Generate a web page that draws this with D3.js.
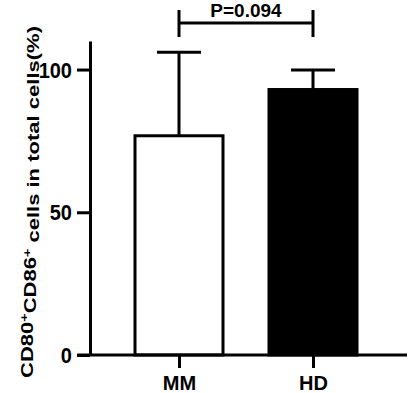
<!DOCTYPE html>
<html lang="en">
<head>
    <meta charset="utf-8">
    <title>CD80+CD86+ cells</title>
    <script src="https://d3js.org/d3.v7.min.js"></script>
    <style>
        body { margin: 0; background: #fff; }
        text { font-family: Arial, "Liberation Sans", sans-serif; font-weight: bold; fill: #000; }
    </style>
</head>
<body>
<div id="chart"></div>
<script>
    // Data
    const groups = ["MM", "HD"];
    const means = [76.8, 93.0];
    const upperErr = [106.1, 99.8];
    const fills = ["#fff", "#000"];
    const yTicks = [0, 50, 100];
    const pLabel = "P=0.094";

    const W = 408, H = 393;
    const margin = {top: 41, right: 3, bottom: 38, left: 90};
    const width = W - margin.left - margin.right,
        height = H - margin.top - margin.bottom;

    const svg = d3.select("#chart")
        .append("svg")
        .attr("width", W)
        .attr("height", H)
        .append("g")
        .attr("transform", `translate(${margin.left},${margin.top})`);

    const y = d3.scaleLinear().domain([0, 110]).range([height, 0]);

    // category centres sit at 179 and 313 in page coords
    const x = d3.scalePoint().domain(groups).range([179 - margin.left, 313 - margin.left]);
    const barW = 88, capW = 44;

    // bars
    svg.selectAll(".bar")
        .data(groups)
        .enter()
        .append("rect")
        .attr("x", d => x(d) - barW / 2)
        .attr("y", (d, i) => y(means[i]))
        .attr("width", barW)
        .attr("height", (d, i) => height - y(means[i]))
        .attr("fill", (d, i) => fills[i])
        .attr("stroke", "#000")
        .attr("stroke-width", 3);

    // error bars (upper only)
    const err = svg.selectAll(".err")
        .data(groups)
        .enter()
        .append("g");
    err.append("line")
        .attr("x1", d => x(d)).attr("x2", d => x(d))
        .attr("y1", (d, i) => y(means[i]))
        .attr("y2", (d, i) => y(upperErr[i]))
        .attr("stroke", "#000").attr("stroke-width", 3);
    err.append("line")
        .attr("x1", d => x(d) - capW / 2).attr("x2", d => x(d) + capW / 2)
        .attr("y1", (d, i) => y(upperErr[i]))
        .attr("y2", (d, i) => y(upperErr[i]))
        .attr("stroke", "#000").attr("stroke-width", 3);

    // Y axis
    const yAxis = svg.append("g")
        .call(d3.axisLeft(y).tickValues(yTicks).tickSize(13).tickPadding(5).tickSizeOuter(0));
    yAxis.select(".domain").attr("stroke-width", 3);
    yAxis.selectAll(".tick line").attr("stroke-width", 3);
    yAxis.selectAll("text")
        .style("font-size", "20px")
        .attr("dy", "0.36em")
        .attr("transform", "scale(1,1.06)");

    // X axis
    const xAxis = svg.append("g")
        .attr("transform", `translate(0,${height})`)
        .call(d3.axisBottom(x).tickSize(13).tickPadding(8).tickSizeOuter(0));
    xAxis.select(".domain")
        .attr("d", `M${-13},0H${width + 2}`)
        .attr("stroke-width", 3);
    xAxis.selectAll(".tick line").attr("stroke-width", 3);
    xAxis.selectAll("text").style("font-size", "20px");

    // significance bracket
    const bY = 23 - margin.top;
    const br = svg.append("g");
    br.append("line")
        .attr("x1", x("MM")).attr("x2", x("HD"))
        .attr("y1", bY).attr("y2", bY)
        .attr("stroke", "#000").attr("stroke-width", 3);
    br.selectAll(".end")
        .data(groups)
        .enter()
        .append("line")
        .attr("x1", d => x(d)).attr("x2", d => x(d))
        .attr("y1", bY - 13).attr("y2", bY + 14)
        .attr("stroke", "#000").attr("stroke-width", 3);
    br.append("text")
        .attr("x", (x("MM") + x("HD")) / 2)
        .attr("y", 16.5 - margin.top)
        .attr("text-anchor", "middle")
        .style("font-size", "19px")
        .text(pLabel);

    // Y label with superscripts, stretched along its length like the reference
    const yl = svg.append("text")
        .attr("transform", `translate(${33 - margin.left},${202 - margin.top}) rotate(-90)`)
        .attr("text-anchor", "middle")
        .attr("textLength", 352)
        .attr("lengthAdjust", "spacingAndGlyphs")
        .style("font-size", "17px");
    yl.append("tspan").text("CD80");
    yl.append("tspan").text("+").attr("dy", "-0.5em").style("font-size", "11px");
    yl.append("tspan").text("CD86").attr("dy", "0.5em");
    yl.append("tspan").text("+").attr("dy", "-0.5em").style("font-size", "11px");
    yl.append("tspan").text(" cells in total cells(%)").attr("dy", "0.5em");
</script>
</body>
</html>
